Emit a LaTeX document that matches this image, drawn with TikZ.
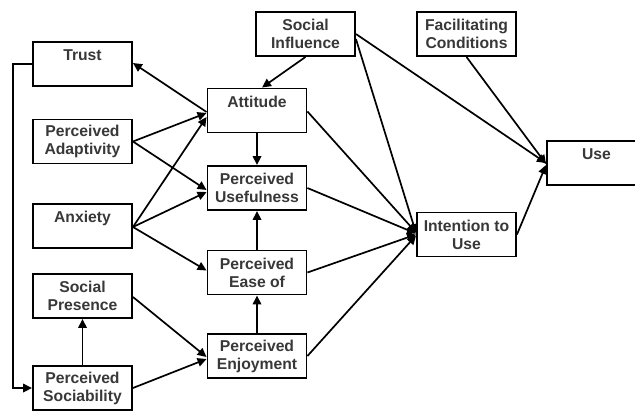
\documentclass[tikz,border=0pt]{standalone}
\usepackage{fontspec}
\setmainfont{Liberation Sans}
\usetikzlibrary{arrows.meta}
\definecolor{txt}{rgb}{0.22,0.22,0.22}
\tikzset{
  box/.style={draw=black, line width=1.9pt, minimum width=99pt, minimum height=44pt,
    inner sep=0pt, align=center, text=txt,
    font=\fontsize{15.7}{18}\selectfont\bfseries},
  conn/.style={line width=1.7pt, -{Triangle[length=9pt,width=8.5pt]}},
}
\begin{document}
\begin{tikzpicture}[x=1pt,y=-1pt]
\useasboundingbox (0,0) rectangle (635,410);
\fill[white] (0,0) rectangle (635,410);
% left column
\node[box] (trust) at (82.5,64) {Trust\\\phantom{X}};
\node[box] (pa) at (82.5,141.5) {Perceived\\Adaptivity};
\node[box] (anx) at (82.5,226) {Anxiety\\\phantom{X}};
\node[box] (sp) at (82.5,296) {Social\\Presence};
\node[box] (ps) at (82.5,388) {Perceived\\Sociability};
% middle column
\node[box] (att) at (257,110.5) {Attitude\\\phantom{X}};
\node[box] (pu) at (257,188) {Perceived\\Usefulness};
\node[box] (pe) at (257,272.5) {Perceived\\Ease of};
\node[box] (pen) at (257,356) {Perceived\\Enjoyment};
% top / right
\node[box] (si) at (305.5,34) {Social\\Influence};
\node[box] (fc) at (466.5,34) {Facilitating\\Conditions};
\node[box] (itu) at (466.5,234.5) {Intention to\\Use};
\node[box] (use) at (596.5,163) {Use\\\phantom{X}};
% connectors
\coordinate (c1) at (13,64);
\coordinate (c2) at (13,388);
\draw[conn] (trust.west) -- (c1) -- (c2) -- (ps.west);
\draw[conn] ([yshift=-1.5pt]att.west) -- ([yshift=1pt]trust.east);
\draw[conn] (pa.east) -- ([yshift=-2.5pt]att.west);
\draw[conn] (pa.east) -- ([yshift=-2pt]pu.west);
\draw[conn] ([yshift=-1pt]anx.east) -- ([yshift=-6.5pt]att.west);
\draw[conn] ([yshift=-1pt]anx.east) -- ([yshift=-4pt]pu.west);
\draw[conn] ([yshift=-1pt]anx.east) -- ([yshift=2pt]pe.west);
\draw[conn] ([yshift=-1pt]sp.east) -- ([yshift=-1pt]pen.west);
\draw[conn] (ps.east) -- ([yshift=-3pt]pen.west);
\draw[conn] (ps.north) -- (sp.south);
\draw[conn] (att.south) -- (pu.north);
\draw[conn] (pe.north) -- (pu.south);
\draw[conn] (pen.north) -- (pe.south);
\draw[conn] (si.south) -- ([xshift=5pt]att.north);
\draw[conn] (si.east) -- (use.west);
\draw[conn] ([yshift=-5pt]si.east) -- ([yshift=1.5pt]itu.west);
\draw[conn] (fc.south) -- ([yshift=-1pt]use.west);
\draw[conn] (itu.east) -- ([yshift=-2pt]use.west);
\draw[conn] ([yshift=-1pt]att.east) -- ([yshift=2pt]itu.west);
\draw[conn] (pu.east) -- ([yshift=1pt]itu.west);
\draw[conn] (pe.east) -- ([yshift=0pt]itu.west);
\draw[conn] (pen.east) -- ([yshift=-1pt]itu.west);
\end{tikzpicture}
\end{document}
